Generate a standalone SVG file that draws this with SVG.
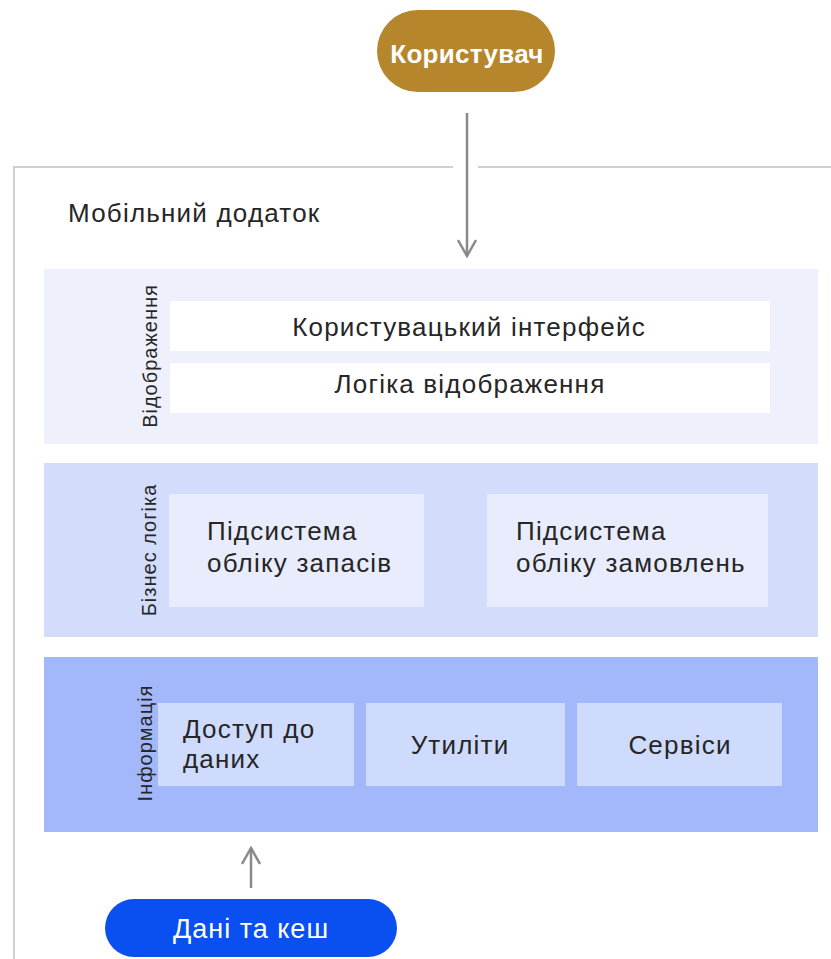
<svg xmlns="http://www.w3.org/2000/svg" width="831" height="959" viewBox="0 0 831 959">
<defs>
<style>
.t{font-family:"Liberation Sans","DejaVu Sans",sans-serif;fill:#262626;}
.big{font-size:26px;letter-spacing:1.2px;}
.lbl{font-size:20px;letter-spacing:1px;}
.frame{stroke:#cfcfcf;stroke-width:2;fill:none;}
.conn{stroke:#8a8a8a;stroke-width:2.5;fill:none;}
</style>
<marker id="arr" viewBox="0 0 20 20" refX="18" refY="10" markerWidth="20" markerHeight="20" markerUnits="userSpaceOnUse" orient="auto">
<path d="M2 1 L18 10 L2 19" fill="none" stroke="#8a8a8a" stroke-width="2.5"/>
</marker>
</defs>
<rect width="831" height="959" fill="#ffffff"/>
<g id="frame">
<path class="frame" d="M14 959 L14 167 L453 167 M478 167 L831 167"/>
<text class="t big" x="68" y="222">Мобільний додаток</text>
</g>
<g id="user">
<rect x="377" y="10" width="178" height="82" rx="41" fill="#b5862b"/>
<text x="467" y="63" text-anchor="middle" font-family="Liberation Sans, sans-serif" font-size="26" font-weight="bold" fill="#ffffff" letter-spacing="0.3">Користувач</text>
</g>
<g id="layer-presentation">
<rect x="44" y="269" width="774" height="175" fill="#eef1fc"/>
<text class="t lbl" transform="translate(157 356) rotate(-90)" text-anchor="middle">Відображення</text>
<g id="ui">
<rect x="170" y="301" width="600" height="50" fill="#ffffff"/>
<text class="t big" x="469" y="336" text-anchor="middle" letter-spacing="1.6">Користувацький інтерфейс</text>
</g>
<g id="view-logic">
<rect x="170" y="363" width="600" height="50" fill="#ffffff"/>
<text class="t big" x="470" y="393" text-anchor="middle">Логіка відображення</text>
</g>
</g>
<g id="layer-business">
<rect x="44" y="463" width="774" height="174" fill="#d4dcfb"/>
<text class="t lbl" transform="translate(156 550) rotate(-90)" text-anchor="middle">Бізнес логіка</text>
<g id="inventory">
<rect x="169" y="494" width="255" height="113" fill="#e8ecfc"/>
<text class="t big" x="207" y="540">Підсистема</text>
<text class="t big" x="207" y="572">обліку запасів</text>
</g>
<g id="orders">
<rect x="487" y="494" width="281" height="113" fill="#e8ecfc"/>
<text class="t big" x="516" y="540">Підсистема</text>
<text class="t big" x="516" y="572">обліку замовлень</text>
</g>
</g>
<g id="layer-data">
<rect x="44" y="657" width="774" height="175" fill="#a3b8fb"/>
<text class="t lbl" transform="translate(152 743) rotate(-90)" text-anchor="middle">Інформація</text>
<g id="data-access">
<rect x="158" y="703" width="196" height="83" fill="#cfdbfd"/>
<text class="t big" x="183" y="738">Доступ до</text>
<text class="t big" x="183" y="768">даних</text>
</g>
<g id="utilities">
<rect x="366" y="703" width="199" height="83" fill="#cfdbfd"/>
<text class="t big" x="460" y="754" text-anchor="middle">Утиліти</text>
</g>
<g id="services">
<rect x="577" y="703" width="205" height="83" fill="#cfdbfd"/>
<text class="t big" x="680" y="754" text-anchor="middle">Сервіси</text>
</g>
</g>
<g id="cache">
<rect x="105" y="899" width="292" height="58" rx="29" fill="#0a50f0"/>
<text x="251" y="938" text-anchor="middle" font-family="Liberation Sans, sans-serif" font-size="27" fill="#ffffff" letter-spacing="1">Дані та кеш</text>
</g>
<g id="connectors">
<path class="conn" d="M467 113 L467 256" marker-end="url(#arr)"/>
<path class="conn" d="M251 888 L251 848" marker-end="url(#arr)"/>
</g>
</svg>
